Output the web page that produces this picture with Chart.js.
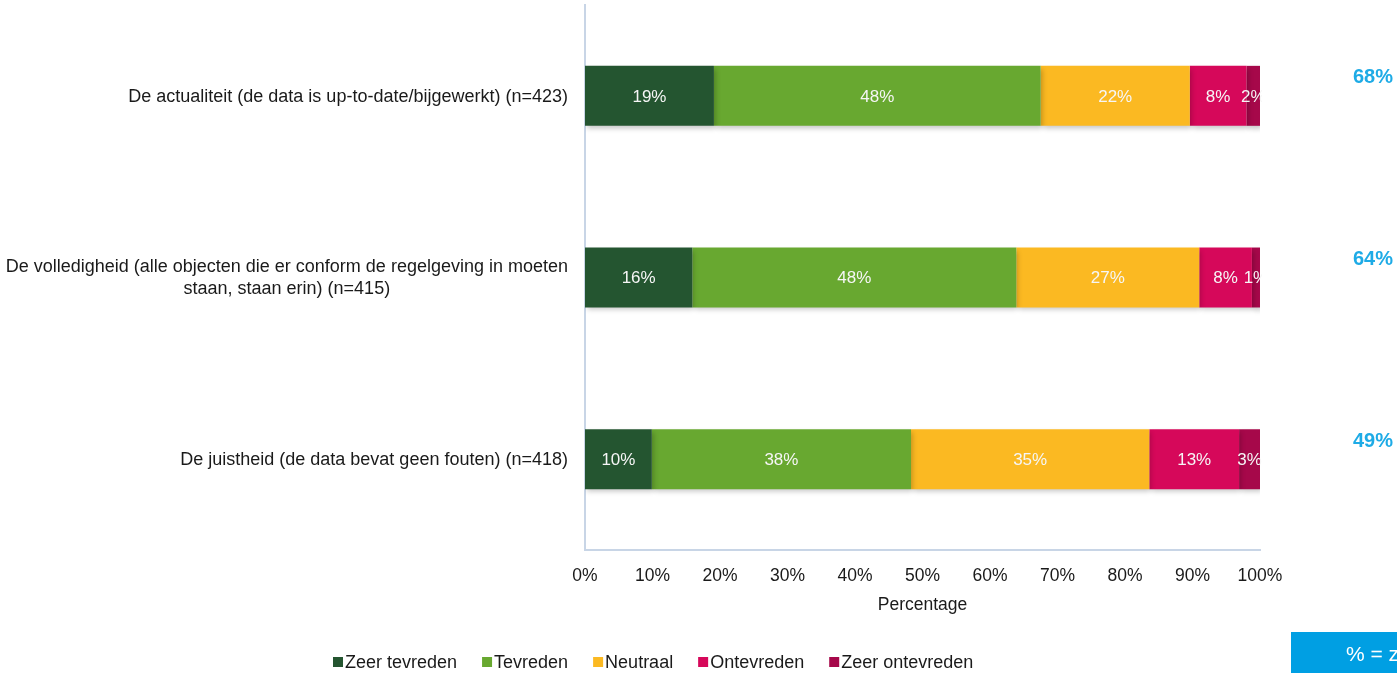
<!DOCTYPE html>
<html>
<head>
<meta charset="utf-8">
<script src="https://cdn.jsdelivr.net/npm/chart.js@4/dist/chart.umd.min.js"></script>
<style>
  html, body { margin: 0; padding: 0; background: #fff; }
  #wrap { position: relative; width: 1397px; height: 673px; }
</style>
</head>
<body>
<div id="wrap"><canvas id="chart"></canvas></div>
<script>
// categories (left labels, split in lines)
const categories = [
    ['De actualiteit (de data is up-to-date/bijgewerkt) (n=423)'],
    ['De volledigheid (alle objecten die er conform de regelgeving in moeten', 'staan, staan erin) (n=415)'],
    ['De juistheid (de data bevat geen fouten) (n=418)']
];
const seriesNames = ['Zeer tevreden', 'Tevreden', 'Neutraal', 'Ontevreden', 'Zeer ontevreden'];
const seriesColors = ['#245530', '#68a830', '#fbb922', '#d6085a', '#a6084a'];

// share per answer, per category (percent)
const zeerTevreden   = [19.1, 15.9, 9.9];
const tevreden       = [48.4, 48.0, 38.4];
const neutraal       = [22.1, 27.1, 35.3];
const ontevreden     = [8.4, 7.8, 13.3];
const zeerOntevreden = [2.0, 1.2, 3.1];

// % (zeer) tevreden shown on the right
const totalTevreden = [68, 64, 49];
const xTicks = [0, 10, 20, 30, 40, 50, 60, 70, 80, 90, 100];

const FONT = '"Liberation Sans", Arial, sans-serif';
const FS = 17.5;
const values = [zeerTevreden, tevreden, neutraal, ontevreden, zeerOntevreden];

// subtle drop shadow under the bars
const shadowPlugin = {
    id: 'barShadow',
    beforeDatasetsDraw(chart) {
        const c = chart.ctx;
        c.save();
        c.shadowColor = 'rgba(0,0,0,0.22)';
        c.shadowBlur = 5;
        c.shadowOffsetX = 2;
        c.shadowOffsetY = 3;
    },
    afterDatasetsDraw(chart) {
        chart.ctx.restore();
    }
};

const labelsPlugin = {
    id: 'extraLabels',
    afterDraw(chart) {
        const c = chart.ctx;
        const area = chart.chartArea;
        const yScale = chart.scales.y;

        // values in the segments
        c.save();
        c.beginPath();
        c.rect(area.left, area.top, area.right - area.left + 2, area.bottom - area.top);
        c.clip();
        c.font = '17px ' + FONT;
        c.fillStyle = '#f6f6f6';
        c.textAlign = 'center';
        c.textBaseline = 'middle';
        chart.data.datasets.forEach((ds, i) => {
            chart.getDatasetMeta(i).data.forEach((bar, j) => {
                const left = Math.min(bar.x, bar.base), right = Math.max(bar.x, bar.base);
                c.fillText(Math.round(ds.data[j]) + '%', (left + right) / 2, bar.y + 1);
            });
        });
        c.restore();

        // category labels on the left
        c.save();
        c.font = '18px ' + FONT;
        c.fillStyle = '#1a1a1a';
        c.textAlign = 'center';
        c.textBaseline = 'middle';
        categories.forEach((lines, j) => {
            const w = Math.max(...lines.map(l => c.measureText(l).width));
            const cx = 568 - w / 2;
            const cy = yScale.getPixelForValue(j);
            const lh = 22;
            lines.forEach((l, k) => {
                c.fillText(l, cx, cy + 1 + (k - (lines.length - 1) / 2) * lh);
            });
        });

        // totals on the right
        c.font = 'bold 20px ' + FONT;
        c.fillStyle = '#1eabe6';
        totalTevreden.forEach((v, j) => {
            c.fillText(v + '%', 1373, yScale.getPixelForValue(j) - 18);
        });

        // legend
        c.font = '18px ' + FONT;
        c.textAlign = 'left';
        let x = 333;
        const ly = 662;
        seriesNames.forEach((n, i) => {
            c.fillStyle = seriesColors[i];
            c.fillRect(x, ly - 5, 10, 10);
            c.fillStyle = '#1a1a1a';
            c.fillText(n, x + 12, ly + 1);
            x += 12 + c.measureText(n).width + 25;
        });

        // blue box bottom right
        c.fillStyle = '#009fe3';
        c.fillRect(1291, 632, 120, 41);
        c.fillStyle = '#ffffff';
        c.font = '21px ' + FONT;
        c.fillText('% = zeer tevreden + tevreden', 1346, 655);
        c.restore();
    }
};

new Chart(document.getElementById('chart'), {
    type: 'bar',
    data: {
        labels: categories.map(l => l.join(' ')),
        datasets: seriesNames.map((n, i) => ({
            label: n,
            data: values[i],
            backgroundColor: seriesColors[i],
            borderWidth: 0,
            barPercentage: 0.33,
            categoryPercentage: 1
        }))
    },
    options: {
        indexAxis: 'y',
        responsive: true,
        maintainAspectRatio: false,
        animation: false,
        layout: { padding: { top: 5, right: 137, bottom: 57, left: 0 } },
        plugins: {
            legend: { display: false },
            tooltip: { enabled: false }
        },
        scales: {
            x: {
                stacked: true,
                min: 0,
                max: 100,
                afterBuildTicks: s => { s.ticks = xTicks.map(v => ({ value: v })); },
                afterFit: s => { s.height = 66; },
                grid: { display: false },
                border: { color: '#c8d5e6', width: 2 },
                ticks: {
                    color: '#1a1a1a',
                    padding: 8,
                    maxRotation: 0,
                    font: { family: FONT, size: FS },
                    callback: v => v + '%'
                },
                title: {
                    display: true,
                    text: 'Percentage',
                    color: '#1a1a1a',
                    padding: { top: 4, bottom: 0 },
                    font: { family: FONT, size: FS }
                }
            },
            y: {
                stacked: true,
                afterFit: s => { s.width = 585; },
                grid: { display: false },
                border: { color: '#c8d5e6', width: 2 },
                ticks: { display: false }
            }
        }
    },
    plugins: [shadowPlugin, labelsPlugin]
});
</script>
</body>
</html>
